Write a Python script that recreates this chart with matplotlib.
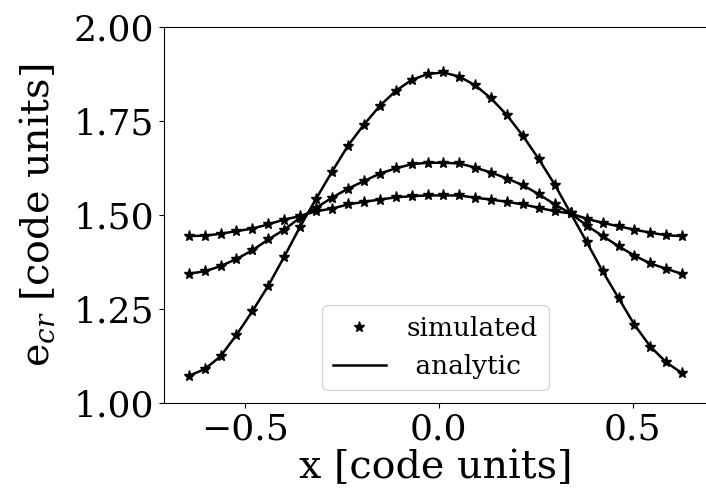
import matplotlib
matplotlib.use("Agg")
import matplotlib.pyplot as plt

plt.rcParams["font.family"] = "DejaVu Serif"
plt.rcParams["mathtext.fontset"] = "dejavuserif"

# grid positions (code units)
x = [-0.644, -0.603, -0.562, -0.521, -0.480, -0.439, -0.398, -0.357,
     -0.316, -0.275, -0.234, -0.193, -0.152, -0.111, -0.070, -0.029,
     0.012, 0.053, 0.094, 0.135, 0.176, 0.217, 0.258, 0.299,
     0.340, 0.381, 0.422, 0.463, 0.504, 0.545, 0.586, 0.627]

# cosmic-ray energy density at three output times
e_early = [1.072, 1.090, 1.124, 1.181, 1.244, 1.312, 1.389, 1.469,
           1.543, 1.615, 1.684, 1.740, 1.790, 1.830, 1.859, 1.875,
           1.879, 1.868, 1.845, 1.810, 1.765, 1.710, 1.648, 1.580,
           1.504, 1.428, 1.350, 1.279, 1.208, 1.150, 1.108, 1.079]
e_mid = [1.344, 1.350, 1.364, 1.383, 1.406, 1.435, 1.461, 1.493,
         1.519, 1.546, 1.570, 1.590, 1.610, 1.624, 1.635, 1.639,
         1.639, 1.637, 1.626, 1.613, 1.597, 1.579, 1.555, 1.528,
         1.504, 1.472, 1.444, 1.417, 1.392, 1.371, 1.357, 1.343]
e_late = [1.444, 1.445, 1.450, 1.457, 1.464, 1.475, 1.488, 1.497,
          1.510, 1.517, 1.528, 1.535, 1.541, 1.547, 1.550, 1.552,
          1.552, 1.552, 1.546, 1.541, 1.535, 1.528, 1.519, 1.510,
          1.504, 1.490, 1.479, 1.470, 1.461, 1.453, 1.446, 1.444]

series = [e_early, e_mid, e_late]

fig = plt.figure(figsize=(7.06, 4.99), dpi=100)
ax = fig.add_axes([0.2323, 0.1924, 0.769, 0.7535])

for i, e in enumerate(series):
    ax.plot(x, e, "k*", ms=8, label="simulated" if i == 0 else None)
    ax.plot(x, e, "k-", lw=1.8, label=" analytic" if i == 0 else None)

ax.set_ylim(1.0, 2.0)
ax.set_yticks([1.0, 1.25, 1.5, 1.75, 2.0])
ax.set_xticks([-0.5, 0.0, 0.5])
ax.tick_params(labelsize=26)
ax.set_xlabel("x [code units]", fontsize=28.5, labelpad=2)
ax.set_ylabel(r"e$_{cr}$ [code units]", fontsize=28.5, labelpad=12)
ax.legend(loc="lower center", fontsize=19)

fig.savefig("out.png", dpi=100)
